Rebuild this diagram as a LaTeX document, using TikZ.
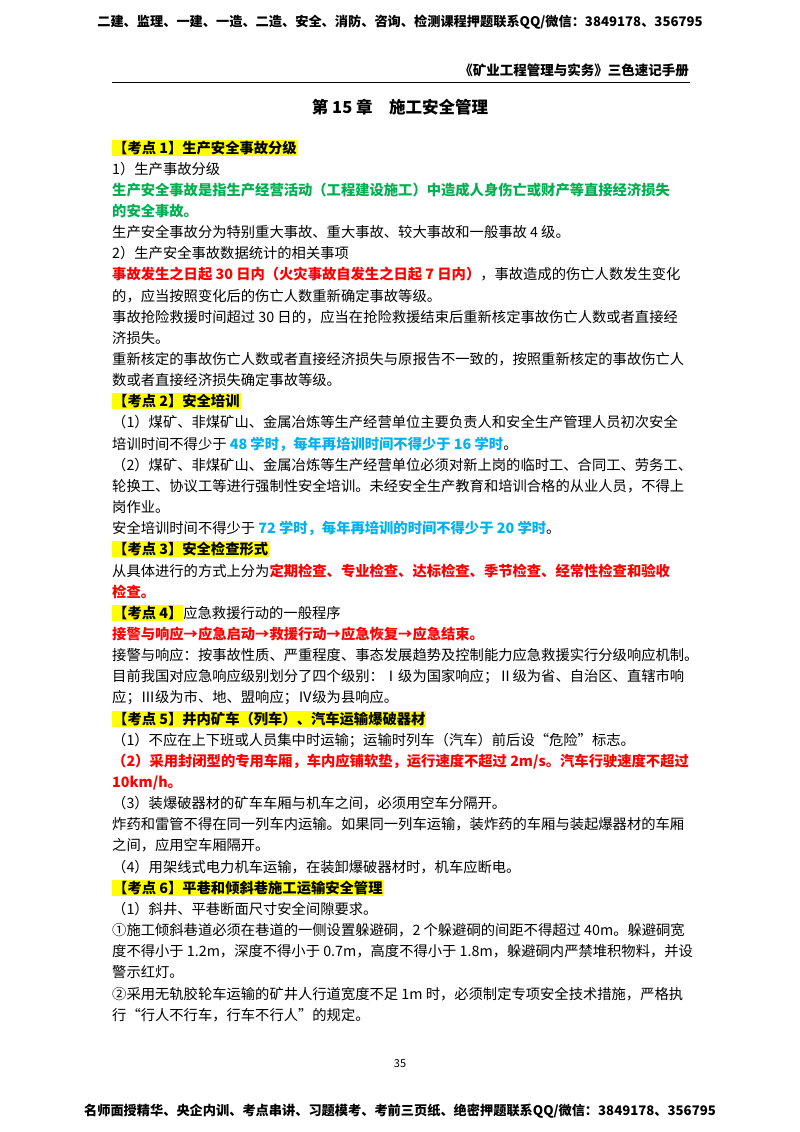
\documentclass[tikz,border=0pt]{standalone}
\usepackage{fontspec}
\setmainfont{Noto Sans CJK SC}
\definecolor{gr}{RGB}{0,176,80}
\definecolor{rd}{RGB}{255,0,0}
\definecolor{bl}{RGB}{0,176,240}
\definecolor{hl}{RGB}{255,255,0}
\newcommand{\RR}[1]{\textcolor{rd}{\bfseries #1}}
\newcommand{\GG}[1]{\textcolor{gr}{\bfseries #1}}
\newcommand{\BB}[1]{\textcolor{bl}{\bfseries #1}}
\newcommand{\HL}[1]{\colorbox{hl}{\bfseries #1}}
\begin{document}
\begin{tikzpicture}[x=1pt,y=-1pt,
  txt/.style={anchor=base west,inner sep=0pt,font=\fontsize{14.3}{16}\selectfont},
  hd/.style={anchor=base,inner sep=0pt,font=\fontsize{13.2}{16}\selectfont\bfseries}]
\useasboundingbox (0,0) rectangle (800,1132);
\setlength{\fboxsep}{1pt}
\newcommand{\Ln}[3]{\node[txt] (#2) at (112,{153+21.15*#1}) {#3};}
\node[hd] (top) at (400,27) {二建、监理、一建、一造、二造、安全、消防、咨询、检测课程押题联系QQ/微信：3849178、356795};
\node[anchor=base east,inner sep=0pt,font=\fontsize{13.5}{16}\selectfont\bfseries] (book) at (689,75) {《矿业工程管理与实务》三色速记手册};
\draw[line width=0.6pt] (112,82) -- (690,82);
\node[anchor=base,inner sep=0pt,font=\fontsize{16.5}{18}\selectfont\bfseries] (title) at (400,113) {第 15 章\quad 施工安全管理};
\Ln{0}{l0}{\HL{【考点 1】生产安全事故分级}}
\Ln{1}{l1}{1）生产事故分级}
\Ln{2}{l2}{\GG{生产安全事故是指生产经营活动（工程建设施工）中造成人身伤亡或财产等直接经济损失}}
\Ln{3}{l3}{\GG{的安全事故。}}
\Ln{4}{l4}{生产安全事故分为特别重大事故、重大事故、较大事故和一般事故 4 级。}
\Ln{5}{l5}{2）生产安全事故数据统计的相关事项}
\Ln{6}{l6}{\RR{事故发生之日起 30 日内（火灾事故自发生之日起 7 日内）}，事故造成的伤亡人数发生变化}
\Ln{7}{l7}{的，应当按照变化后的伤亡人数重新确定事故等级。}
\Ln{8}{l8}{事故抢险救援时间超过 30 日的，应当在抢险救援结束后重新核定事故伤亡人数或者直接经}
\Ln{9}{l9}{济损失。}
\Ln{10}{l10}{重新核定的事故伤亡人数或者直接经济损失与原报告不一致的，按照重新核定的事故伤亡人}
\Ln{11}{l11}{数或者直接经济损失确定事故等级。}
\Ln{12}{l12}{\HL{【考点 2】安全培训}}
\Ln{13}{l13}{（1）煤矿、非煤矿山、金属冶炼等生产经营单位主要负责人和安全生产管理人员初次安全}
\Ln{14}{l14}{培训时间不得少于 \BB{48 学时，每年再培训时间不得少于 16 学时}。}
\Ln{15}{l15}{（2）煤矿、非煤矿山、金属冶炼等生产经营单位必须对新上岗的临时工、合同工、劳务工、}
\Ln{16}{l16}{轮换工、协议工等进行强制性安全培训。未经安全生产教育和培训合格的从业人员，不得上}
\Ln{17}{l17}{岗作业。}
\Ln{18}{l18}{安全培训时间不得少于 \BB{72 学时，每年再培训的时间不得少于 20 学时}。}
\Ln{19}{l19}{\HL{【考点 3】安全检查形式}}
\Ln{20}{l20}{从具体进行的方式上分为\RR{定期检查、专业检查、达标检查、季节检查、经常性检查和验收}}
\Ln{21}{l21}{\RR{检查。}}
\Ln{22}{l22}{\HL{【考点 4】}应急救援行动的一般程序}
\Ln{23}{l23}{\RR{接警与响应→应急启动→救援行动→应急恢复→应急结束。}}
\Ln{24}{l24}{接警与响应：按事故性质、严重程度、事态发展趋势及控制能力应急救援实行分级响应机制。}
\Ln{25}{l25}{目前我国对应急响应级别划分了四个级别：Ⅰ级为国家响应；Ⅱ级为省、自治区、直辖市响}
\Ln{26}{l26}{应；Ⅲ级为市、地、盟响应；Ⅳ级为县响应。}
\Ln{27}{l27}{\HL{【考点 5】井内矿车（列车）、汽车运输爆破器材}}
\Ln{28}{l28}{（1）不应在上下班或人员集中时运输；运输时列车（汽车）前后设“危险”标志。}
\Ln{29}{l29}{\RR{（2）采用封闭型的专用车厢，车内应铺软垫，运行速度不超过 2m/s。汽车行驶速度不超过}}
\Ln{30}{l30}{\RR{10km/h。}}
\Ln{31}{l31}{（3）装爆破器材的矿车车厢与机车之间，必须用空车分隔开。}
\Ln{32}{l32}{炸药和雷管不得在同一列车内运输。如果同一列车运输，装炸药的车厢与装起爆器材的车厢}
\Ln{33}{l33}{之间，应用空车厢隔开。}
\Ln{34}{l34}{（4）用架线式电力机车运输，在装卸爆破器材时，机车应断电。}
\Ln{35}{l35}{\HL{【考点 6】平巷和倾斜巷施工运输安全管理}}
\Ln{36}{l36}{（1）斜井、平巷断面尺寸安全间隙要求。}
\Ln{37}{l37}{①施工倾斜巷道必须在巷道的一侧设置躲避硐，2 个躲避硐的间距不得超过 40m。躲避硐宽}
\Ln{38}{l38}{度不得小于 1.2m，深度不得小于 0.7m，高度不得小于 1.8m，躲避硐内严禁堆积物料，并设}
\Ln{39}{l39}{警示红灯。}
\Ln{40}{l40}{②采用无轨胶轮车运输的矿井人行道宽度不足 1m 时，必须制定专项安全技术措施，严格执}
\Ln{41}{l41}{行“行人不行车，行车不行人”的规定。}
\node[anchor=base,inner sep=0pt,font=\fontsize{11}{13}\selectfont] (pg) at (400,1067) {35};
\node[hd] (bot) at (400,1115) {名师面授精华、央企内训、考点串讲、习题模考、考前三页纸、绝密押题联系QQ/微信：3849178、356795};
\end{tikzpicture}
\end{document}
